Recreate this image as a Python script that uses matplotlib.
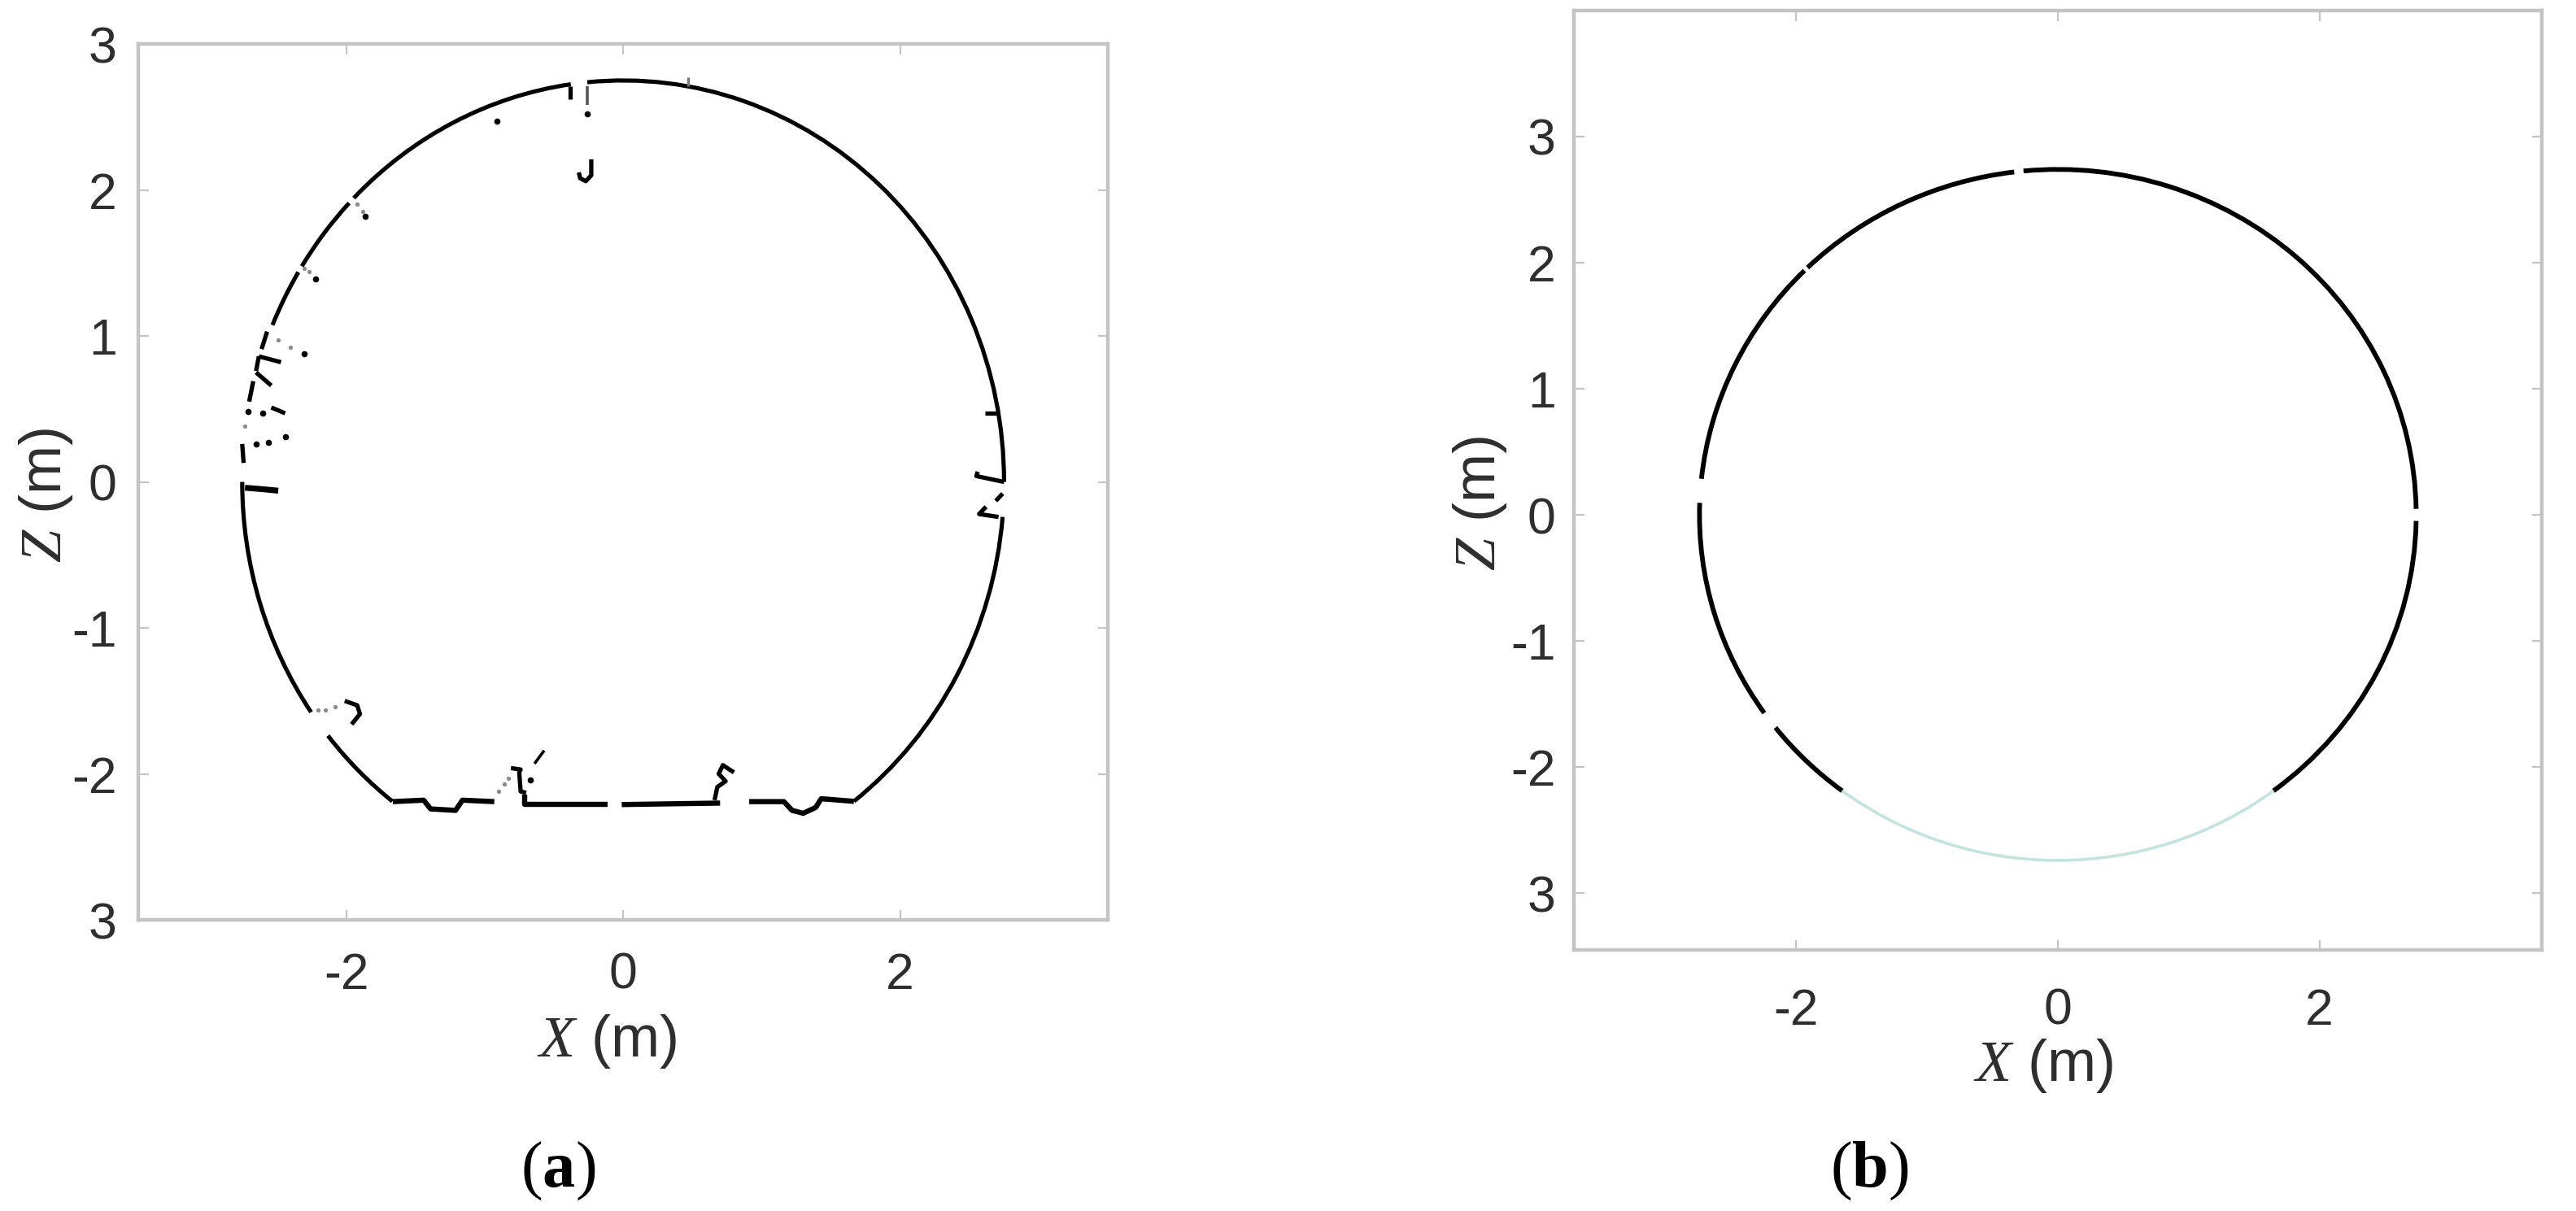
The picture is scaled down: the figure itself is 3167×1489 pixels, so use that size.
import numpy as np
import matplotlib.pyplot as plt
from matplotlib.patches import Arc

plt.rcParams['font.family'] = ['Liberation Sans', 'DejaVu Sans']
plt.rcParams['mathtext.fontset'] = 'custom'
plt.rcParams['mathtext.rm'] = 'Liberation Serif'
plt.rcParams['mathtext.it'] = 'Liberation Serif:italic'
plt.rcParams['mathtext.bf'] = 'Liberation Serif:bold'

# ---- panel (a): scanned tunnel profile ----
radius_a = 2.75
arcs_a = [(0, 95.4), (97.9, 135), (136, 147.5), (148.5, 157),
          (180, 215), (219.2, 232.7), (307.3, 355)]

floor_left = [(-1.663, -2.19), (-1.44, -2.18), (-1.39, -2.24), (-1.21, -2.25),
              (-1.16, -2.18), (-0.93, -2.19)]
floor_mid = [(-0.71, -2.14), (-0.71, -2.21), (-0.11, -2.21)]
floor_mid2 = [(-0.01, -2.21), (0.70, -2.20)]
floor_right = [(0.91, -2.19), (1.16, -2.19), (1.22, -2.25), (1.30, -2.27),
               (1.39, -2.23), (1.43, -2.17), (1.666, -2.188)]
bump_s = [(0.66, -2.18), (0.68, -2.09), (0.74, -2.05), (0.69, -2.00),
          (0.72, -1.94), (0.80, -1.99)]
bump_2 = [(-0.81, -1.96), (-0.74, -1.97), (-0.75, -1.99), (-0.74, -2.12), (-0.70, -2.13)]
slash = [(-0.64, -1.93), (-0.57, -1.84)]
hook_low = [(-2.01, -1.50), (-1.92, -1.53), (-1.90, -1.59), (-1.96, -1.66)]
top_tick_l = [(-0.38, 2.71), (-0.38, 2.62)]
top_tick_r = [(-0.26, 2.71), (-0.26, 2.58)]
hook_top = [(-0.23, 2.21), (-0.23, 2.10), (-0.27, 2.06), (-0.31, 2.08), (-0.32, 2.12)]
top_nub = [(0.47, 2.77), (0.47, 2.71)]
right_tick = [(2.61, 0.47), (2.72, 0.47)]
right_hook = [(2.75, 0.0), (2.55, 0.04), (2.56, 0.07)]
right_bit1 = [(2.74, -0.08), (2.69, -0.13)]
right_bit2 = [(2.62, -0.17), (2.57, -0.22), (2.71, -0.24)]
left_flag = [(-2.73, -0.04), (-2.60, -0.05), (-2.49, -0.06)]
cluster = [
    [(-2.57, 1.03), (-2.61, 0.91)],
    [(-2.63, 0.86), (-2.47, 0.82)],
    [(-2.63, 0.86), (-2.65, 0.76)],
    [(-2.65, 0.75), (-2.54, 0.66)],
    [(-2.67, 0.69), (-2.70, 0.55)],
    [(-2.54, 0.51), (-2.44, 0.47)],
    [(-2.75, 0.26), (-2.74, 0.13)],
]
dots_black_x = [-0.91, -1.86, -2.22, -2.30, -2.71, -2.60, -2.65, -2.56, -2.44, -0.67, -0.26]
dots_black_z = [2.47, 1.82, 1.39, 0.88, 0.48, 0.47, 0.26, 0.27, 0.31, -2.04, 2.52]
dots_grey_x = [-1.92, -1.88, -2.30, -2.27, -2.49, -2.40, -2.73, -2.20, -2.15, -2.08,
               -0.90, -0.86, -0.83]
dots_grey_z = [1.90, 1.85, 1.46, 1.44, 0.97, 0.92, 0.38, -1.56, -1.56, -1.54,
               -2.12, -2.07, -2.03]

# ---- panel (b): fitted circle ----
radius_b = 2.74
arcs_b_black = [(1, 95.5), (97, 134.3), (135, 174), (178, 215), (218, 233), (307, 359)]
arcs_b_light = [(233, 307)]

yticks = [-3, -2, -1, 0, 1, 2, 3]
ytick_labels = ['3', '-2', '-1', '0', '1', '2', '3']
xticks = [-2, 0, 2]
xtick_labels = ['-2', '0', '2']

frame_col = '#c4c4c4'
text_col = '#2e2e2e'

fig = plt.figure(figsize=(31.67, 14.89), dpi=100)
ax1 = fig.add_axes([0.0537, 0.2404, 0.3764, 0.7233])
ax2 = fig.add_axes([0.6110, 0.2156, 0.3757, 0.7757])


def style(ax, xpad, ypad):
    for s in ax.spines.values():
        s.set_color(frame_col)
        s.set_linewidth(3.2)
    ax.set_xticks(xticks)
    ax.set_xticklabels(xtick_labels)
    ax.set_yticks(yticks)
    ax.set_yticklabels(ytick_labels)
    ax.tick_params(direction='in', length=9, width=1.6, color=frame_col,
                   top=True, right=True, labelsize=45, labelcolor=text_col)
    ax.tick_params(axis='x', pad=xpad)
    ax.tick_params(axis='y', pad=ypad)


def line(ax, pts, lw=3.8, color='black'):
    xs = [p[0] for p in pts]
    zs = [p[1] for p in pts]
    ax.plot(xs, zs, color=color, lw=lw, solid_capstyle='butt')


# panel (a)
for t1, t2 in arcs_a:
    ax1.add_patch(Arc((0, 0), 2 * radius_a, 2 * radius_a, theta1=t1, theta2=t2,
                      color='black', lw=3.7))
for seg in [floor_left, floor_mid, floor_mid2, floor_right]:
    line(ax1, seg, lw=4.6)
for seg in [bump_s, bump_2, hook_low, top_tick_l, hook_top, right_tick,
            right_hook, right_bit1, right_bit2]:
    line(ax1, seg, lw=3.8)
line(ax1, left_flag, lw=5.2)
line(ax1, slash, lw=2.6)
line(ax1, top_tick_r, lw=2.6, color='#555555')
line(ax1, top_nub, lw=2.4, color='#777777')
for seg in cluster:
    line(ax1, seg, lw=3.8)
ax1.plot(dots_black_x, dots_black_z, 'o', color='black', ms=5.5, mew=0)
ax1.plot(dots_grey_x, dots_grey_z, 'o', color='#8a8a8a', ms=3.8, mew=0)

ax1.set_xlim(-3.5, 3.5)
ax1.set_ylim(-3, 3)
style(ax1, xpad=28, ypad=19)

# panel (b)
for t1, t2 in arcs_b_black:
    ax2.add_patch(Arc((0, 0), 2 * radius_b, 2 * radius_b, theta1=t1, theta2=t2,
                      color='black', lw=4.2))
for t1, t2 in arcs_b_light:
    ax2.add_patch(Arc((0, 0), 2 * radius_b, 2 * radius_b, theta1=t1, theta2=t2,
                      color='#c3e4de', lw=2.6))
ax2.set_xlim(-3.7, 3.7)
ax2.set_ylim(-3.45, 4.0)
style(ax2, xpad=33, ypad=16)

# axis labels
for ax, xl, yl in [(ax1, (0.483, -0.156), (-0.095, 0.485)),
                   (ax2, (0.485, -0.139), (-0.097, 0.475))]:
    ax.set_xlabel(r'$\mathit{X}$ (m)', fontsize=52, color=text_col)
    ax.set_ylabel(r'$\mathit{Z}$ (m)', fontsize=52, color=text_col)
    ax.xaxis.label.set_va('baseline')
    ax.xaxis.set_label_coords(*xl)
    ax.yaxis.label.set_va('center')
    ax.yaxis.set_label_coords(*yl)

fig.text(686 / 3167, 1 - 1440 / 1489, r'($\mathbf{a}$)', fontsize=58,
         family='Liberation Serif', ha='center', va='center', color='black')
fig.text(2298 / 3167, 1 - 1440 / 1489, r'($\mathbf{b}$)', fontsize=58,
         family='Liberation Serif', ha='center', va='center', color='black')

fig.savefig('out.png', dpi=100, facecolor='white')
